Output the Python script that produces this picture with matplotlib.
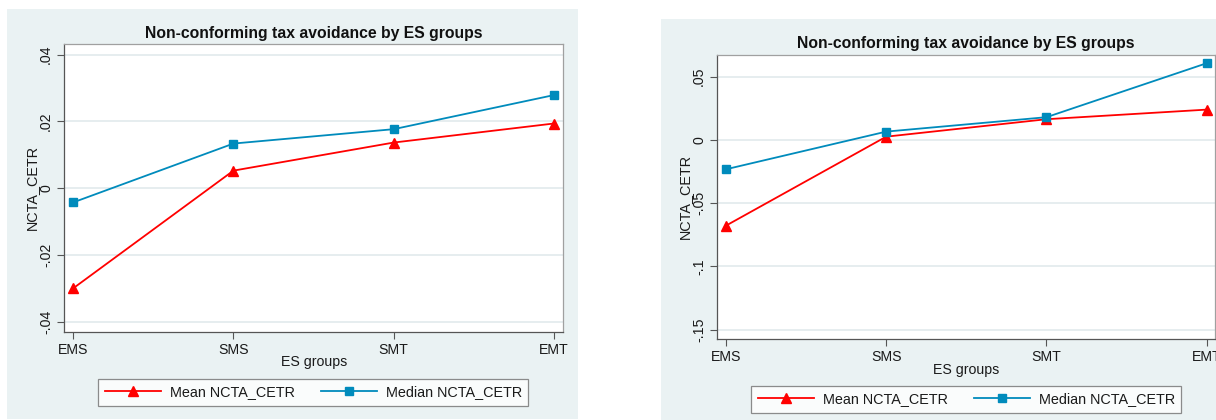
import matplotlib
matplotlib.use("Agg")
import matplotlib.pyplot as plt
from matplotlib.patches import Rectangle

# ---------------- data ----------------
groups = ["EMS", "SMS", "SMT", "EMT"]

left_mean = [-0.0299, 0.0053, 0.0137, 0.0194]
left_median = [-0.0042, 0.0134, 0.0177, 0.0279]
left_yticks = [-0.04, -0.02, 0.0, 0.02, 0.04]
left_yticklabels = ["-.04", "-.02", "0", ".02", ".04"]

right_mean = [-0.0678, 0.0026, 0.0164, 0.0240]
right_median = [-0.0232, 0.0066, 0.0180, 0.0607]
right_yticks = [-0.15, -0.10, -0.05, 0.0, 0.05]
right_yticklabels = ["-.15", "-.1", "-.05", "0", ".05"]

title = "Non-conforming tax avoidance by ES groups"
xlabel = "ES groups"
ylabel = "NCTA_CETR"
legend_labels = ["Mean NCTA_CETR", "Median NCTA_CETR"]

# ---------------- style ----------------
W, H = 1216, 420
BG = "#eaf2f3"
GRID = "#e4ecee"
RED = "#ff0000"
BLUE = "#008bbc"
FONT = ["Liberation Sans", "DejaVu Sans"]
plt.rcParams["font.family"] = FONT

fig = plt.figure(figsize=(W / 100, H / 100), dpi=100)
fig.patch.set_facecolor("white")


def fx(px):
    return px / W


def fy(py):
    return 1 - py / H


def add_bg(x0, y0, x1, y1):
    fig.patches.append(Rectangle((fx(x0), fy(y1)), fx(x1) - fx(x0), fy(y0) - fy(y1),
                                 transform=fig.transFigure, facecolor=BG,
                                 edgecolor="none", zorder=0))


def panel(box, bg, mean, median, yticks, yticklabels, ylim, xlim, legend_center):
    add_bg(*bg)
    l, t, r, b = box
    ax = fig.add_axes([fx(l), fy(b), fx(r) - fx(l), fy(t) - fy(b)])
    ax.set_facecolor("white")
    ax.set_zorder(2)
    x = list(range(len(groups)))
    l1, = ax.plot(x, mean, color=RED, lw=1.3, marker="^", ms=6.5, zorder=3,
                  label=legend_labels[0])
    l2, = ax.plot(x, median, color=BLUE, lw=1.3, marker="s", ms=5.5, zorder=3,
                  label=legend_labels[1])
    ax.set_xlim(*xlim)
    ax.set_ylim(*ylim)
    ax.set_xticks(x)
    ax.set_xticklabels(groups, fontsize=10.2)
    ax.set_yticks(yticks)
    ax.set_yticklabels(yticklabels, fontsize=10.2, rotation=90, va="center")
    ax.tick_params(axis="both", length=5, width=0.8, color="#555555", pad=3,
                   labelcolor="#1a1a1a")
    ax.grid(axis="y", color=GRID, lw=1.3, zorder=1)
    ax.set_axisbelow(True)
    for s in ["left", "bottom"]:
        ax.spines[s].set_color("#555555")
        ax.spines[s].set_linewidth(0.9)
    for s in ["top", "right"]:
        ax.spines[s].set_color("#a0a0a0")
        ax.spines[s].set_linewidth(0.9)
    hpx = b - t
    wpx = r - l
    # title
    ax.set_title(title, fontsize=11.3, fontweight="bold", y=(b - (t - 11)) / hpx,
                 va="center", color="#111111", pad=0)
    # axis labels
    ax.set_xlabel(xlabel, fontsize=10.2, va="center", color="#1a1a1a")
    ax.xaxis.set_label_coords(0.5, -(30.5) / hpx)
    ax.set_ylabel(ylabel, fontsize=10.4, va="center", ha="center", color="#1a1a1a")
    ax.yaxis.set_label_coords(-(32.5) / wpx, 0.5)
    leg = ax.legend(handles=[l1, l2], loc="center", ncol=2,
                    bbox_to_anchor=(fx(legend_center[0]), fy(legend_center[1])),
                    bbox_transform=fig.transFigure, fontsize=10.4,
                    frameon=True, fancybox=False, edgecolor="#707070",
                    handlelength=3.9, handletextpad=0.6, columnspacing=1.8,
                    borderpad=0.45, borderaxespad=0)
    leg.get_frame().set_linewidth(0.9)
    for txt in leg.get_texts():
        txt.set_color("#1a1a1a")
    return ax


# left panel
panel(box=(64.3, 44.3, 563.0, 331.7), bg=(7.3, 9, 577.7, 418.5),
      mean=left_mean, median=left_median,
      yticks=left_yticks, yticklabels=left_yticklabels,
      ylim=(-0.0429, 0.0431), xlim=(-0.056, 3.057),
      legend_center=(313.3, 392.5))

# right panel (cut off at the right edge like the reference)
panel(box=(717.3, 54.5, 1215.0, 339.3), bg=(661, 19, 1230, 430),
      mean=right_mean, median=right_median,
      yticks=right_yticks, yticklabels=right_yticklabels,
      ylim=(-0.1577, 0.0676), xlim=(-0.054, 3.052),
      legend_center=(966.4, 399.3))

fig.savefig("out.png", dpi=100, facecolor="white")
